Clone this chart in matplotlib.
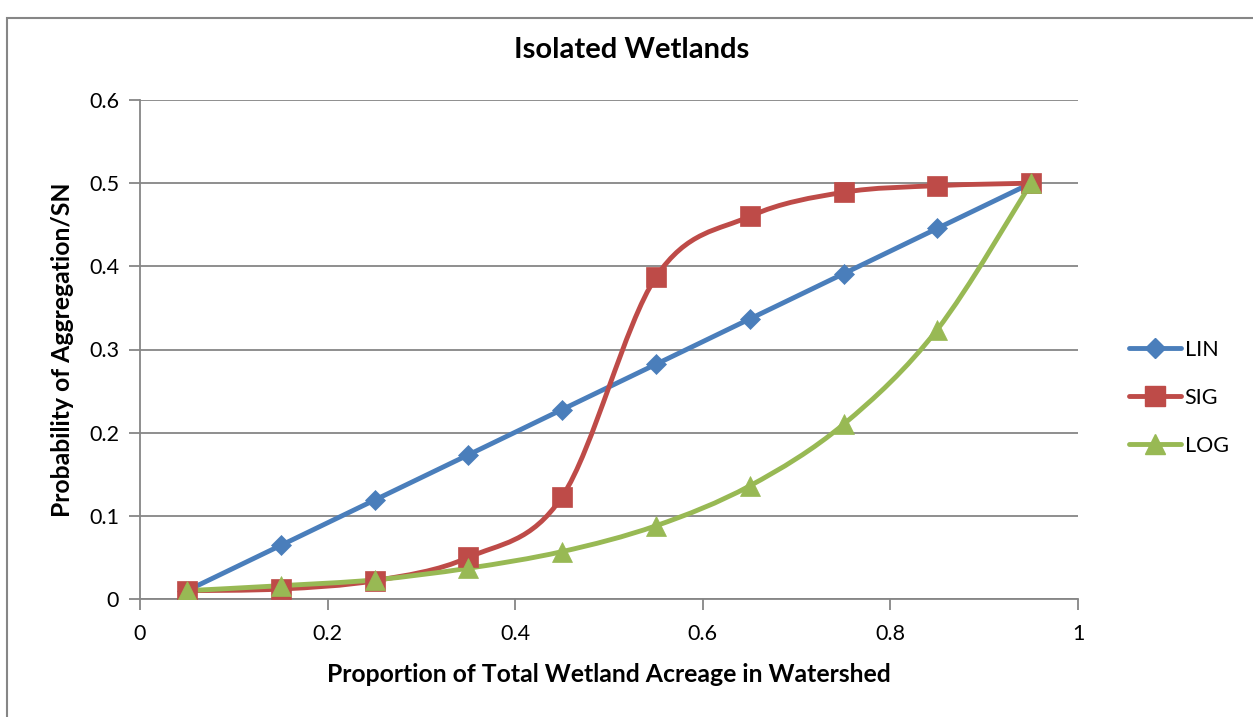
import numpy as np
import matplotlib
matplotlib.use('Agg')
import matplotlib.pyplot as plt
from matplotlib.path import Path
from matplotlib.patches import PathPatch, Rectangle
from matplotlib.lines import Line2D

plt.rcParams['font.family'] = ['Lato', 'DejaVu Sans']

# proportion of wetland acreage (x) and probability for each model
prop = [0.05, 0.15, 0.25, 0.35, 0.45, 0.55, 0.65, 0.75, 0.85, 0.95]
lin = [0.01, 0.0644, 0.1189, 0.1733, 0.2278, 0.2822, 0.3367, 0.3911, 0.4456, 0.5]
sig = [0.01, 0.012, 0.022, 0.05, 0.123, 0.387, 0.46, 0.489, 0.497, 0.5]
log = [0.01, 0.016, 0.023, 0.037, 0.057, 0.088, 0.136, 0.21, 0.324, 0.5]
names = ['LIN', 'SIG', 'LOG']

GREY = '#868686'
colors = ['#4A7EBB', '#BE4B48', '#98B954']
markers = ['D', 's', '^']
msizes = [10, 14, 15]


def smooth_path(xs, ys):
    # spreadsheet-style smoothed line: cubic Bezier through each point
    pts = np.column_stack([xs, ys])
    n = len(pts)
    verts = [pts[0]]
    codes = [Path.MOVETO]
    for i in range(n - 1):
        p0 = pts[i - 1] if i > 0 else pts[i]
        p1 = pts[i]
        p2 = pts[i + 1]
        p3 = pts[i + 2] if i + 2 < n else pts[i + 1]
        c1 = p1 + (p2 - p0) / 6.0
        c2 = p2 - (p3 - p1) / 6.0
        verts += [c1, c2, p2]
        codes += [Path.CURVE4] * 3
    return Path(verts, codes)


fig = plt.figure(figsize=(12.53, 7.17), dpi=100)
# chart frame
fig.patches.append(Rectangle((7 / 1253, -0.05), 1.2, (717 - 18) / 717 + 0.05,
                             transform=fig.transFigure, fill=False,
                             edgecolor=GREY, linewidth=1.5))

ax = fig.add_axes([140 / 1253, (717 - 599) / 717, 938 / 1253, 499 / 717])

series = [lin, sig, log]
for k, ys in enumerate(series):
    if k == 0:
        ax.plot(prop, ys, color=colors[k], linewidth=3.5,
                solid_capstyle='round', zorder=2 + 0.1 * k)
    else:
        ax.add_patch(PathPatch(smooth_path(prop, ys), facecolor='none',
                               edgecolor=colors[k], linewidth=3.5,
                               capstyle='round', zorder=2 + 0.1 * k))
for k, ys in enumerate(series):
    ax.plot(prop, ys, linestyle='none', marker=markers[k], markersize=msizes[k],
            color=colors[k], markeredgewidth=0.5, zorder=3 + 0.1 * k)

ax.set_xlim(0, 1)
ax.set_ylim(0, 0.6)
ax.set_xticks(np.arange(0, 1.01, 0.2))
ax.set_xticklabels(['0', '0.2', '0.4', '0.6', '0.8', '1'])
ax.set_yticks(np.arange(0, 0.61, 0.1))
ax.set_yticklabels(['0', '0.1', '0.2', '0.3', '0.4', '0.5', '0.6'])
ax.grid(axis='y', color=GREY, linewidth=1.3)
ax.set_axisbelow(True)
for s in ['top', 'right']:
    ax.spines[s].set_visible(False)
for s in ['left', 'bottom']:
    ax.spines[s].set_color(GREY)
    ax.spines[s].set_linewidth(1.3)
ax.tick_params(axis='both', direction='out', length=8, width=1.3, color=GREY,
               labelsize=15.5)
ax.tick_params(axis='y', pad=7)
ax.tick_params(axis='x', pad=10)

ax.set_title('Isolated Wetlands', fontsize=21, fontweight='bold', pad=30.5,
             x=(632 - 140) / 938)
ax.set_xlabel('Proportion of Total Wetland Acreage in Watershed',
              fontsize=17.8, fontweight='bold', labelpad=14)
ax.set_ylabel('Probability of Aggregation/SN', fontsize=17.8,
              fontweight='bold', labelpad=11)

handles = [Line2D([], [], color=colors[k], linewidth=3.5, marker=markers[k],
                  markersize=msizes[k], solid_capstyle='round')
           for k in range(3)]
fig.legend(handles, names, loc='center left',
           bbox_to_anchor=(1120 / 1253, (717 - 398) / 717),
           frameon=False, fontsize=15.5, handlelength=2.45, handletextpad=0.15,
           labelspacing=1.3, borderaxespad=0)

fig.savefig('out.png', dpi=100)
